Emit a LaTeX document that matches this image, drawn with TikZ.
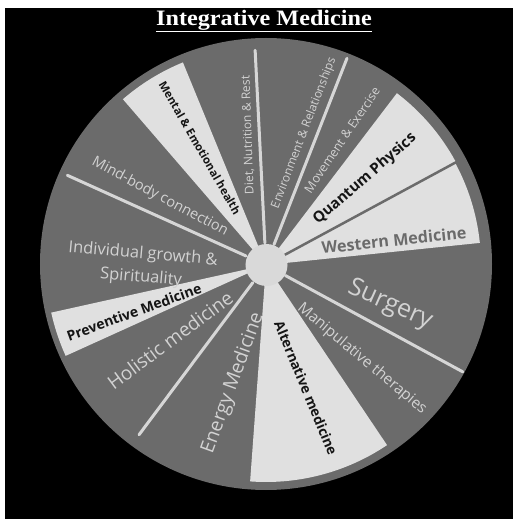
\documentclass[tikz,border=0pt]{standalone}
\usepackage{fontspec}
\setmainfont{Open Sans}
\newfontfamily\titlefont{Liberation Serif}
\definecolor{wheeldark}{HTML}{6B6B6B}
\definecolor{wheellight}{HTML}{E0E0E0}
\definecolor{hubgrey}{HTML}{D9D9D9}
\definecolor{spokegrey}{HTML}{D6D6D6}
\definecolor{softtext}{HTML}{D2D2D2}
\definecolor{inktext}{HTML}{151515}
\newcommand{\fsz}[1]{\fontsize{#1}{#1}\selectfont}
\begin{document}
\begin{tikzpicture}[x=1pt,y=1pt,
    spoke/.style={draw=spokegrey, line width=3pt, line cap=round},
    softlabel/.style={text=softtext, inner sep=0pt},
    inklabel/.style={text=inktext, inner sep=0pt}]
    % page and black panel
    \useasboundingbox (-266,-254) rectangle (247,265);
    \fill[white] (-266,-254) rectangle (247,265);
    \fill[black] (-261,-254) rectangle (247,257);
    % title
    \node[text=white, inner sep=0pt, xscale=1.1] (title) at (-2,244)
        {\titlefont\bfseries\fontsize{22}{24}\selectfont\underline{Integrative Medicine}};
    % wheel
    \fill[wheeldark] (0,1) circle (226);
    \foreach \a/\b/\r in {112.3/130.8/219, 28.6/52.7/216, 5.9/28.2/215,
                         -94.2/-56.1/217, 192.5/204.4/220}
        \fill[wheellight] (0,0) -- (\a:\r) arc[start angle=\a, end angle=\b, radius=\r] -- cycle;
    \draw[wheeldark, line width=2.5pt] (0,0) -- (28.4:217);
    \foreach \a/\r in {155.7/218, 92.9/215, 68.6/222, -28.5/224, 233.2/212}
        \draw[spoke] (\a:22) -- (\a:\r);
    \node[circle, fill=hubgrey, minimum size=42pt, inner sep=0pt] (hub) at (0.5,0) {};
    % labels
    \node[softlabel, rotate=-28, font=\fsz{14.5}] (mindbody) at (-106,68) {Mind-body connection};
    \node[inklabel, rotate=-60, font=\fsz{11.3}\bfseries] (mental) at (-66,117) {Mental \& Emotional health};
    \node[softlabel, rotate=92, font=\fsz{12}] (diet) at (-18,130) {Diet, Nutrition \& Rest};
    \node[softlabel, rotate=69, font=\fsz{11.9}] (environment) at (38,132) {Environment \& Relationships};
    \node[softlabel, rotate=56, font=\fsz{12.4}] (movement) at (76,125) {Movement \& Exercise};
    \node[inklabel, rotate=41, font=\fsz{15}\bfseries] (quantum) at (99,86) {Quantum Physics};
    \node[text=wheeldark, inner sep=0pt, rotate=6, font=\fsz{16.2}\bfseries] (western) at (128,25) {Western Medicine};
    \node[softlabel, rotate=-24, font=\fsz{25}] (surgery) at (124,-40) {Surgery};
    \node[softlabel, rotate=-40, font=\fsz{15.3}] (manipulative) at (96,-94) {Manipulative therapies};
    \node[inklabel, rotate=-67.5, font=\fsz{13.7}\bfseries] (alternative) at (40,-123) {Alternative medicine};
    \node[softlabel, rotate=70, font=\fsz{19.3}] (energy) at (-33,-118) {Energy Medicine};
    \node[softlabel, rotate=36.6, font=\fsz{19}] (holistic) at (-96,-75) {Holistic medicine};
    \node[inklabel, rotate=20, font=\fsz{14}\bfseries] (preventive) at (-132,-47) {Preventive Medicine};
    \node[softlabel, rotate=-5, align=center, font=\fontsize{16.5}{23.5}\selectfont] (growth) at (-124,-1)
        {Individual growth \&\\Spirituality};
\end{tikzpicture}
\end{document}
